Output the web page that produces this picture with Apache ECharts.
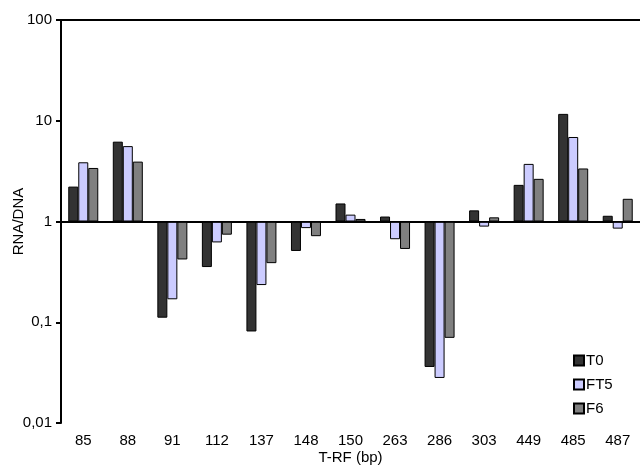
<!DOCTYPE html>
<html>
<head>
<meta charset="utf-8">
<script src="https://cdn.jsdelivr.net/npm/echarts@6/dist/echarts.min.js"></script>
<style>
  html, body { margin: 0; padding: 0; background: #fff; }
  #main { width: 640px; height: 471px; }
</style>
</head>
<body>
<div id="main"></div>
<script>
var categories = ['85', '88', '91', '112', '137', '148', '150', '263', '286', '303', '449', '485', '487'];
var seriesNames = ['T0', 'FT5', 'F6'];
var t0 = [2.22, 6.2, 0.111, 0.353, 0.081, 0.51, 1.51, 1.12, 0.036, 1.29, 2.31, 11.7, 1.14];
var ft5 = [3.87, 5.6, 0.169, 0.62, 0.234, 0.86, 1.17, 0.667, 0.028, 0.89, 3.73, 6.9, 0.85];
var f6 = [3.40, 3.93, 0.42, 0.74, 0.386, 0.715, 1.06, 0.534, 0.070, 1.10, 2.65, 3.36, 1.68];
var tickLabels = ['0,01', '0,1', '1', '10', '100'];
var colors = ['#333333', '#ccccff', '#808080'];

function showChart() {
    var dom = document.getElementById('main');
    var myChart = echarts.init(dom);
    var font = 'Liberation Sans, Arial, sans-serif';

    // log10 of the ratio, bars grow from 1 (log = 0)
    var all = [t0, ft5, f6];
    var series = all.map(function (vals, i) {
        var s = {
            name: seriesNames[i],
            type: 'bar',
            barWidth: 10,
            barGap: '0%',
            data: vals.map(function (v) { return Math.log10(v); }),
            itemStyle: {
                color: colors[i],
                borderColor: '#000',
                borderWidth: 1
            }
        };
        if (i === 0) {
            s.markLine = {
                silent: true,
                symbol: 'none',
                label: { show: false },
                lineStyle: { color: '#000', width: 1.5, type: 'solid' },
                data: [{ yAxis: 0 }]
            };
        }
        return s;
    });

    option = {
        animation: false,
        grid: { left: 61, right: 0, top: 20, bottom: 48, outerBoundsMode: 'none', containLabel: false },
        legend: {
            orient: 'vertical',
            left: 568,
            top: 348,
            itemWidth: 10,
            itemHeight: 10,
            itemGap: 9,
            icon: 'rect',
            textStyle: { fontFamily: font, fontSize: 15, color: '#000', padding: [0, 0, 0, -3] },
            data: seriesNames
        },
        xAxis: [{
            type: 'category',
            data: categories,
            position: 'bottom',
            name: 'T-RF (bp)',
            nameLocation: 'middle',
            nameGap: 27,
            nameMoveOverlap: false,
            nameTextStyle: { fontFamily: font, fontSize: 15, color: '#000' },
            axisLine: { lineStyle: { color: '#000', width: 2 } },
            axisTick: { show: false },
            axisLabel: { fontFamily: font, fontSize: 15, color: '#000', margin: 10 }
        }, {
            type: 'category',
            data: categories,
            position: 'top',
            axisLine: { lineStyle: { color: '#000', width: 2 } },
            axisTick: { show: false },
            axisLabel: { show: false }
        }],
        yAxis: {
            type: 'value',
            min: -2,
            max: 2,
            interval: 1,
            name: 'RNA/DNA',
            nameLocation: 'middle',
            nameRotate: 90,
            nameGap: 35,
            nameMoveOverlap: false,
            nameTextStyle: { fontFamily: font, fontSize: 15, color: '#000' },
            axisLine: { show: true, lineStyle: { color: '#000', width: 2 } },
            axisTick: { show: true, length: 5, lineStyle: { color: '#000', width: 2 } },
            splitLine: { show: false },
            axisLabel: {
                fontFamily: font,
                fontSize: 15,
                color: '#000',
                margin: 9,
                formatter: function (v) { return tickLabels[Math.round(v) + 2]; }
            }
        },
        series: series
    };

    if (option && typeof option === 'object') {
        myChart.setOption(option, true);
    }

    window.addEventListener('resize', function () {
        myChart.resize();
    });
}
showChart();
</script>
</body>
</html>
